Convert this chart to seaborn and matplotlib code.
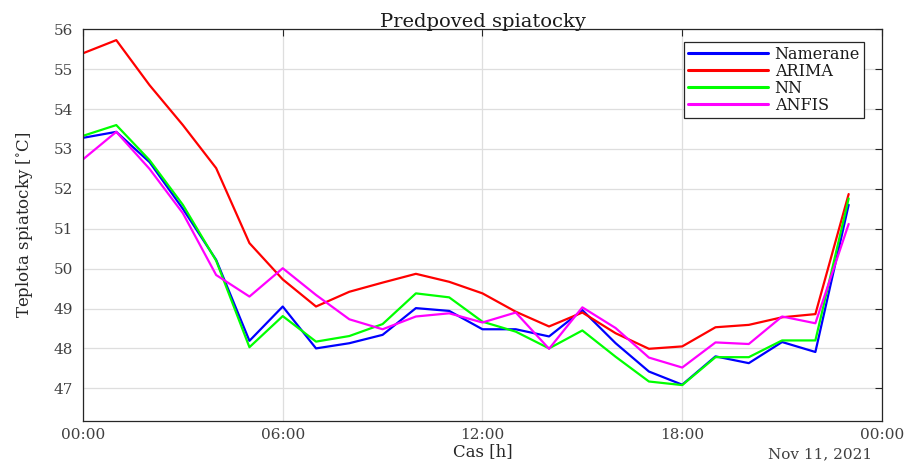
import numpy as np
import pandas as pd
import matplotlib
matplotlib.use("Agg")
import matplotlib.pyplot as plt
import seaborn as sns

hours = list(range(24))
namerane = [53.28, 53.43, 52.67, 51.50, 50.22, 48.19, 49.05, 48.00, 48.13, 48.34, 49.01, 48.94,
            48.48, 48.48, 48.30, 48.96, 48.13, 47.42, 47.09, 47.80, 47.63, 48.16, 47.91, 51.60]
arima = [55.40, 55.73, 54.60, 53.60, 52.52, 50.64, 49.73, 49.05, 49.42, 49.65, 49.87, 49.67,
         49.38, 48.92, 48.55, 48.90, 48.38, 47.99, 48.05, 48.53, 48.59, 48.78, 48.86, 51.87]
nn = [53.33, 53.60, 52.72, 51.60, 50.20, 48.03, 48.81, 48.17, 48.31, 48.61, 49.38, 49.28,
      48.67, 48.42, 48.00, 48.45, 47.79, 47.17, 47.08, 47.78, 47.78, 48.20, 48.20, 51.76]
anfis = [52.74, 53.43, 52.50, 51.39, 49.84, 49.30, 50.01, 49.34, 48.73, 48.48, 48.80, 48.88,
         48.65, 48.90, 47.99, 49.03, 48.51, 47.77, 47.52, 48.15, 48.11, 48.80, 48.63, 51.12]
series_names = ["Namerane", "ARIMA", "NN", "ANFIS"]
colors = ["#0000ff", "#ff0000", "#00ff00", "#ff00ff"]
xtick_pos = [0, 6, 12, 18, 24]
xtick_labels = ["00:00", "06:00", "12:00", "18:00", "00:00"]
yticks = [47, 48, 49, 50, 51, 52, 53, 54, 55, 56]

df = pd.concat([
    pd.DataFrame({"hour": hours, "temp": vals, "series": name})
    for name, vals in zip(series_names, [namerane, arima, nn, anfis])
])

sns.set_style("white")
plt.rcParams["font.family"] = ["DejaVu Serif"]
plt.rcParams["mathtext.fontset"] = "dejavuserif"

fig = plt.figure(figsize=(9.13, 4.66), dpi=100)
ax = fig.add_axes([0.0909, 0.0966, 0.966 - 0.0909, 0.937 - 0.0966])

sns.lineplot(data=df, x="hour", y="temp", hue="series", palette=colors,
             hue_order=series_names, linewidth=1.6, ax=ax, sort=False)

ax.set_xlim(0, 24)
ax.set_ylim(46.18, 56)
ax.set_xticks(xtick_pos)
ax.set_xticklabels(xtick_labels)
ax.set_yticks(yticks)
ax.grid(True, color="#dedede", linewidth=0.9)
ax.set_axisbelow(True)
for s in ax.spines.values():
    s.set_color("#262626")
    s.set_linewidth(0.9)
ax.tick_params(direction="in", length=5, width=0.8, top=True, right=True,
               labelsize=11, labelcolor="#404040", color="#262626")
ax.tick_params(axis="x", pad=5)
ax.tick_params(axis="y", pad=7)

ax.set_title("Predpoved spiatocky", fontsize=14, color="#1a1a1a", pad=2)
ax.set_xlabel("Cas [h]", fontsize=12, color="#262626")
ax.xaxis.set_label_coords(0.5, -0.056)
ax.set_ylabel(r"Teplota spiatocky [$^{\circ}$C]", fontsize=12, color="#262626")
ax.yaxis.set_label_coords(-0.06, 0.5)
ax.text(0.9875, -0.068, "Nov 11, 2021", transform=ax.transAxes, ha="right", va="top",
        fontsize=11, color="#404040")

leg = ax.legend(loc="upper right", bbox_to_anchor=(0.9775, 0.968), fontsize=11.5,
                frameon=True, fancybox=False, handlelength=5.0, borderpad=0.25,
                labelspacing=0.0, handletextpad=0.4, borderaxespad=0.0)
leg.get_frame().set_edgecolor("#262626")
leg.get_frame().set_linewidth(0.9)
leg.get_frame().set_alpha(1)
for t in leg.get_texts():
    t.set_color("#1a1a1a")
for line in leg.get_lines():
    line.set_linewidth(2.2)

fig.savefig("out.png", dpi=100)
